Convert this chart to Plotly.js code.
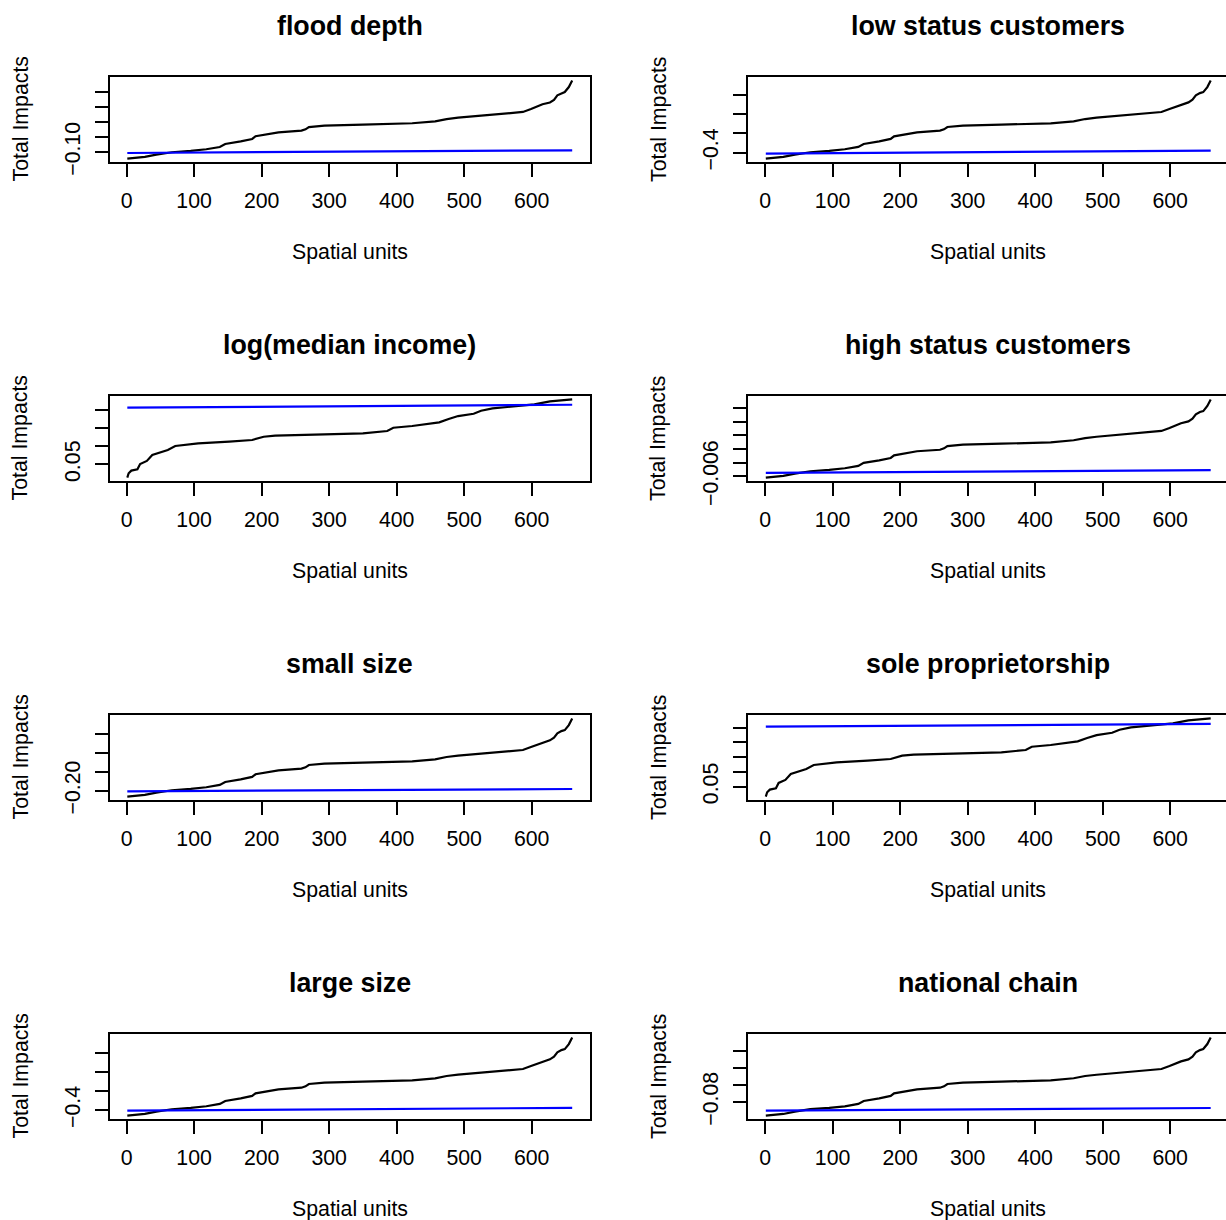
<!DOCTYPE html>
<html><head><meta charset="utf-8">
<script src="https://cdn.plot.ly/plotly-3.0.1.min.js"></script>
<style>html,body{margin:0;padding:0;overflow:hidden;background:#fff}#chart{width:1230px;height:1220px}</style>
</head><body><div id="chart"></div>
<script>
// ---------- data ----------
const panelTitles = ["flood depth","low status customers","log(median income)","high status customers",
                     "small size","sole proprietorship","large size","national chain"];
const xTitle = "Spatial units";
const yTitle = "Total Impacts";
const xTickVals = [0,100,200,300,400,500,600];
const xTickText = ["0","100","200","300","400","500","600"];

// spatial unit positions at which the sorted curves were read
const unitsA = [1,27,44,67,95,118,138,146,169,186,191,208,225,259,265,270,293,350,423,457,474,491,559,587,599,607,616,627,633,638,644,649,655,660];
const unitsB = [1,3,7,16,20,30,38,47,61,72,84,106,152,186,203,220,293,350,386,395,423,463,477,491,514,525,542,604,627,660];
const unitsBlue = [1,330,660];

const floodDepth = [-0.1044,-0.1033,-0.1018,-0.1002,-0.0993,-0.0982,-0.0967,-0.0947,-0.0930,-0.0914,-0.0896,-0.0883,-0.0870,-0.0859,-0.0850,-0.0835,-0.0826,-0.0819,-0.0810,-0.0797,-0.0782,-0.0773,-0.0749,-0.0735,-0.0716,-0.0703,-0.0684,-0.0672,-0.0655,-0.0625,-0.0610,-0.0603,-0.0570,-0.0526];
const floodDepthBlue = [-0.1007,-0.0998,-0.0989];

const lowStatus = [-0.4310,-0.4225,-0.4102,-0.3980,-0.3911,-0.3826,-0.3704,-0.3549,-0.3411,-0.3288,-0.3150,-0.3044,-0.2942,-0.2857,-0.2788,-0.2666,-0.2597,-0.2544,-0.2474,-0.2369,-0.2251,-0.2181,-0.1990,-0.1884,-0.1730,-0.1626,-0.1486,-0.1384,-0.1245,-0.1017,-0.0899,-0.0847,-0.0586,-0.0240];
const lowStatusBlue = [-0.4052,-0.3974,-0.3896];

const logIncome = [0.0138,0.0256,0.0330,0.0366,0.0512,0.0596,0.0760,0.0807,0.0898,0.1007,0.1035,0.1081,0.1128,0.1173,0.1263,0.1291,0.1328,0.1356,0.1421,0.1511,0.1558,0.1657,0.1750,0.1832,0.1896,0.1978,0.2043,0.2152,0.2234,0.2290];
const logIncomeBlue = [0.2062,0.2103,0.2144];

const highStatus = [-0.00609,-0.00597,-0.00580,-0.00563,-0.00553,-0.00541,-0.00524,-0.00502,-0.00483,-0.00466,-0.00447,-0.00432,-0.00417,-0.00406,-0.00396,-0.00379,-0.00369,-0.00362,-0.00352,-0.00337,-0.00321,-0.00311,-0.00284,-0.00269,-0.00248,-0.00233,-0.00213,-0.00199,-0.00180,-0.00148,-0.00131,-0.00124,-0.00087,-0.00039];
const highStatusBlue = [-0.00575,-0.00565,-0.00555];

const smallSize = [-0.2155,-0.2112,-0.2050,-0.1989,-0.1954,-0.1910,-0.1849,-0.1771,-0.1701,-0.1639,-0.1569,-0.1516,-0.1465,-0.1421,-0.1386,-0.1325,-0.1290,-0.1263,-0.1228,-0.1175,-0.1115,-0.1080,-0.0984,-0.0930,-0.0852,-0.0800,-0.0729,-0.0677,-0.0607,-0.0492,-0.0433,-0.0407,-0.0275,-0.0100];
const smallSizeBlue = [-0.2018,-0.1987,-0.1956];

const soleProp = [0.0163,0.0309,0.0399,0.0444,0.0624,0.0727,0.0928,0.0986,0.1097,0.1232,0.1267,0.1322,0.1381,0.1436,0.1547,0.1582,0.1627,0.1661,0.1741,0.1852,0.1910,0.2032,0.2146,0.2246,0.2326,0.2426,0.2506,0.2641,0.2741,0.2810];
const solePropBlue = [0.2534,0.2580,0.2625];

const largeSize = [-0.4280,-0.4194,-0.4071,-0.3949,-0.3879,-0.3793,-0.3671,-0.3515,-0.3376,-0.3253,-0.3114,-0.3008,-0.2906,-0.2820,-0.2750,-0.2628,-0.2558,-0.2505,-0.2436,-0.2329,-0.2210,-0.2141,-0.1949,-0.1842,-0.1687,-0.1582,-0.1442,-0.1339,-0.1199,-0.0971,-0.0853,-0.0800,-0.0538,-0.0190];
const largeSizeBlue = [-0.4017,-0.3948,-0.3878];

const nationalChain = [-0.0960,-0.0941,-0.0913,-0.0885,-0.0870,-0.0851,-0.0823,-0.0788,-0.0757,-0.0729,-0.0698,-0.0674,-0.0651,-0.0632,-0.0616,-0.0588,-0.0573,-0.0561,-0.0545,-0.0521,-0.0494,-0.0479,-0.0436,-0.0412,-0.0377,-0.0353,-0.0322,-0.0299,-0.0267,-0.0216,-0.0189,-0.0177,-0.0118,-0.0040];
const nationalChainBlue = [-0.0902,-0.0886,-0.0871];

const yTickVals = [
  [-0.10,-0.09,-0.08,-0.07,-0.06],
  [-0.4,-0.3,-0.2,-0.1],
  [0.05,0.10,0.15,0.20],
  [-0.006,-0.005,-0.004,-0.003,-0.002,-0.001],
  [-0.20,-0.15,-0.10,-0.05],
  [0.05,0.10,0.15,0.20,0.25],
  [-0.4,-0.3,-0.2,-0.1],
  [-0.08,-0.06,-0.04,-0.02]
];
const yTickText = [
  ["\u22120.10","","","",""],
  ["\u22120.4","","",""],
  ["0.05","","",""],
  ["\u22120.006","","","","",""],
  ["\u22120.20","","",""],
  ["0.05","","","",""],
  ["\u22120.4","","",""],
  ["\u22120.08","","",""]
];

const panels = [
  {x: unitsA, y: floodDepth,    blue: floodDepthBlue},
  {x: unitsA, y: lowStatus,     blue: lowStatusBlue},
  {x: unitsB, y: logIncome,     blue: logIncomeBlue},
  {x: unitsA, y: highStatus,    blue: highStatusBlue},
  {x: unitsA, y: smallSize,     blue: smallSizeBlue},
  {x: unitsB, y: soleProp,      blue: solePropBlue},
  {x: unitsA, y: largeSize,     blue: largeSizeBlue},
  {x: unitsA, y: nationalChain, blue: nationalChainBlue}
];

// ---------- layout geometry (pixels) ----------
const W = 1230, H = 1220;
const boxLeft = [109.5, 748], boxW = 480.5;
const boxTop0 = 77.3, rowStep = 319, boxH = 84.4;
const FONT = '"Liberation Sans", Arial, Helvetica, sans-serif';
const nUnits = 660;

const traces = [];
const layout = {
  width: W, height: H,
  margin: {l:0, r:0, t:0, b:0},
  paper_bgcolor: '#fff', plot_bgcolor: '#fff',
  showlegend: false,
  font: {family: FONT, color: '#000', size: 21},
  annotations: []
};

panels.forEach((p, i) => {
  const n = i + 1;
  const col = i % 2, row = Math.floor(i / 2);
  const L = boxLeft[col], R = L + boxW;
  const T = boxTop0 + row * rowStep, B = T + boxH;
  const xa = 'x' + (n === 1 ? '' : n), ya = 'y' + (n === 1 ? '' : n);

  traces.push({x: p.x, y: p.y, type: 'scatter', mode: 'lines', xaxis: xa, yaxis: ya,
               line: {color: '#000', width: 2.2}, hoverinfo: 'skip'});
  traces.push({x: unitsBlue, y: p.blue, type: 'scatter', mode: 'lines', xaxis: xa, yaxis: ya,
               line: {color: '#0000ff', width: 2.2}, hoverinfo: 'skip'});

  const all = p.y.concat(p.blue);
  const lo = Math.min(...all), hi = Math.max(...all), sp = hi - lo;
  const xsp = nUnits - 1;

  layout['xaxis' + (n === 1 ? '' : n)] = {
    domain: [L / W, R / W], anchor: ya,
    range: [1 - 0.04 * xsp, nUnits + 0.04 * xsp],
    tickvals: xTickVals, ticktext: xTickText,
    ticks: 'outside', ticklen: 13, tickwidth: 2, tickcolor: '#000',
    ticklabelstandoff: 6,
    showline: true, linewidth: 2, linecolor: '#000', mirror: true,
    showgrid: false, zeroline: false, fixedrange: true,
    tickfont: {size: 21.3, family: FONT, color: '#000'}
  };
  layout['yaxis' + (n === 1 ? '' : n)] = {
    domain: [1 - B / H, 1 - T / H], anchor: xa,
    range: [lo - 0.04 * sp, hi + 0.04 * sp],
    tickvals: yTickVals[i], ticktext: yTickText[i],
    tickangle: -90,
    ticks: 'outside', ticklen: 13, tickwidth: 2, tickcolor: '#000',
    ticklabelstandoff: 6,
    showline: true, linewidth: 2, linecolor: '#000', mirror: true,
    showgrid: false, zeroline: false, fixedrange: true,
    tickfont: {size: 21.3, family: FONT, color: '#000'}
  };

  const cx = (L + R) / 2, cy = (T + B) / 2;
  layout.annotations.push({
    text: '<b>' + panelTitles[i] + '</b>', xref: 'paper', yref: 'paper',
    x: cx / W, y: 1 - (T - 51) / H, xanchor: 'center', yanchor: 'middle',
    showarrow: false, font: {size: 26.8, family: FONT, color: '#000'}
  });
  layout.annotations.push({
    text: xTitle, xref: 'paper', yref: 'paper',
    x: cx / W, y: 1 - (B + 90.5) / H, xanchor: 'center', yanchor: 'middle',
    showarrow: false, font: {size: 21.3, family: FONT, color: '#000'}
  });
  layout.annotations.push({
    text: yTitle, xref: 'paper', yref: 'paper', textangle: -90,
    x: (L - 89.5) / W, y: 1 - cy / H, xanchor: 'center', yanchor: 'middle',
    showarrow: false, font: {size: 21.3, family: FONT, color: '#000'}
  });
});

Plotly.newPlot('chart', traces, layout, {displayModeBar: false, staticPlot: true});
</script>
</body></html>
